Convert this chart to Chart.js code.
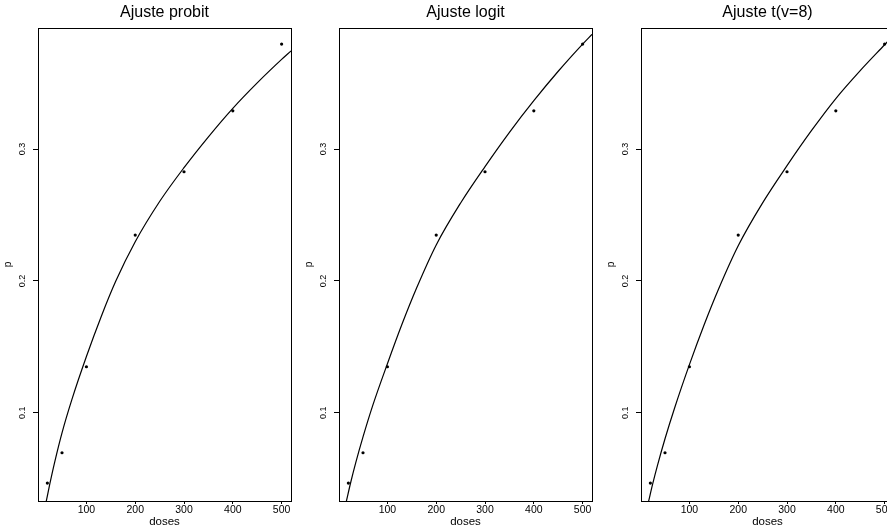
<!DOCTYPE html>
<html>
<head>
<meta charset="utf-8">
<title>Ajustes</title>
<script src="https://cdn.jsdelivr.net/npm/chart.js@4.4.1/dist/chart.umd.min.js"></script>
<style>
  html, body { margin: 0; padding: 0; background: #fff; overflow: hidden; }
  #wrap { position: relative; width: 887px; height: 529px; overflow: hidden; }
  .panel { position: absolute; top: 0; width: 329px; height: 529px; }
</style>
</head>
<body>
<div id="wrap">
  <div class="panel" style="left:0px"><canvas id="probitChart"></canvas></div>
  <div class="panel" style="left:301px"><canvas id="logitChart"></canvas></div>
  <div class="panel" style="left:603px"><canvas id="tChart"></canvas></div>
</div>
<script>
// observed proportions
const doses = [20, 50, 100, 200, 300, 400, 500]
const proportions = [0.0467, 0.0697, 0.1349, 0.2348, 0.2828, 0.3290, 0.3796]

const xTicks = [100, 200, 300, 400, 500]
const yTicks = [0.1, 0.2, 0.3]
const xMin = 0.8, xMax = 519.2
const yMin = 0.0331, yMax = 0.3918

// fitted curves
const probitDoses = [17.5, 25, 35, 50, 70, 100, 130, 160, 200, 250, 300, 350, 400, 450, 500, 519.2]
const probitFit = [0.0325, 0.0460, 0.0626, 0.0848, 0.1098, 0.1427, 0.1727, 0.1997, 0.2297, 0.2602, 0.2859, 0.3093, 0.3309, 0.3502, 0.3680, 0.3744]

const logitDoses = [15.5, 25, 35, 50, 70, 100, 130, 160, 200, 250, 300, 350, 400, 450, 500, 519.2]
const logitFit = [0.0323, 0.0475, 0.0620, 0.0817, 0.1056, 0.1372, 0.1673, 0.1948, 0.2273, 0.2591, 0.2867, 0.3127, 0.3367, 0.3590, 0.3796, 0.3870]

const tDoses = [16, 25, 35, 50, 70, 100, 130, 160, 200, 250, 300, 350, 400, 450, 500, 519.2]
const tFit = [0.0323, 0.0464, 0.0607, 0.0803, 0.1040, 0.1365, 0.1666, 0.1941, 0.2267, 0.2592, 0.2874, 0.3139, 0.3383, 0.3595, 0.3791, 0.3866]

Chart.defaults.font.family = "'Liberation Sans', Arial, Helvetica, sans-serif"
Chart.defaults.color = '#000'

function makePanel(canvasId, title, fitDoses, fitValues) {
    const points = doses.map((d, i) => ({ x: d, y: proportions[i] }))
    const curve = fitDoses.map((d, i) => ({ x: d, y: fitValues[i] }))

    const frame = { display: true, color: '#000', width: 1 }

    new Chart(document.getElementById(canvasId), {
        type: 'scatter',
        data: {
            datasets: [
                {
                    data: points,
                    showLine: false,
                    pointRadius: 1.6,
                    pointBorderWidth: 0,
                    pointBackgroundColor: '#000'
                },
                {
                    data: curve,
                    showLine: true,
                    fill: false,
                    borderColor: '#000',
                    borderWidth: 1.2,
                    pointRadius: 0,
                    cubicInterpolationMode: 'monotone'
                }
            ]
        },
        options: {
            responsive: true,
            maintainAspectRatio: false,
            animation: false,
            events: [],
            layout: { padding: 0 },
            plugins: {
                legend: { display: false },
                tooltip: { enabled: false },
                title: {
                    display: true,
                    text: title,
                    color: '#000',
                    font: { size: 16, weight: 'normal', lineHeight: 1.1 },
                    padding: { top: 4, bottom: 6.4 }
                }
            },
            scales: {
                x: {
                    type: 'linear',
                    position: 'bottom',
                    min: xMin,
                    max: xMax,
                    afterBuildTicks: s => { s.ticks = xTicks.map(v => ({ value: v })) },
                    afterFit: s => { s.height = 28 },
                    ticks: { color: '#000', font: { size: 10.5 }, padding: 0, maxRotation: 0, autoSkip: false, callback: v => String(v) },
                    grid: { display: true, drawOnChartArea: false, tickLength: 3, tickColor: '#000' },
                    border: frame,
                    title: { display: true, text: 'doses', color: '#000', font: { size: 11.5 }, padding: { top: 0, bottom: 0 } }
                },
                y: {
                    type: 'linear',
                    position: 'left',
                    min: yMin,
                    max: yMax,
                    afterBuildTicks: s => { s.ticks = yTicks.map(v => ({ value: v })) },
                    afterFit: s => { s.width = 38 },
                    ticks: { color: '#000', font: { size: 9 }, padding: 4, minRotation: 90, maxRotation: 90, crossAlign: 'center', callback: v => String(v) },
                    grid: { display: true, drawOnChartArea: false, tickLength: 5, tickColor: '#000' },
                    border: frame,
                    title: { display: true, text: 'p', color: '#000', font: { size: 10 }, padding: { top: 2, bottom: 0 } }
                },
                // top and right sides of the box
                xTop: {
                    type: 'linear',
                    position: 'top',
                    min: xMin,
                    max: xMax,
                    ticks: { display: false },
                    grid: { display: false, drawTicks: false },
                    border: frame,
                    afterFit: s => { s.height = 0 }
                },
                yRight: {
                    type: 'linear',
                    position: 'right',
                    min: yMin,
                    max: yMax,
                    ticks: { display: false },
                    grid: { display: false, drawTicks: false },
                    border: frame,
                    afterFit: s => { s.width = 38 }
                }
            }
        }
    })
}

makePanel('probitChart', 'Ajuste probit', probitDoses, probitFit)
makePanel('logitChart', 'Ajuste logit', logitDoses, logitFit)
makePanel('tChart', 'Ajuste t(v=8)', tDoses, tFit)
</script>
</body>
</html>
